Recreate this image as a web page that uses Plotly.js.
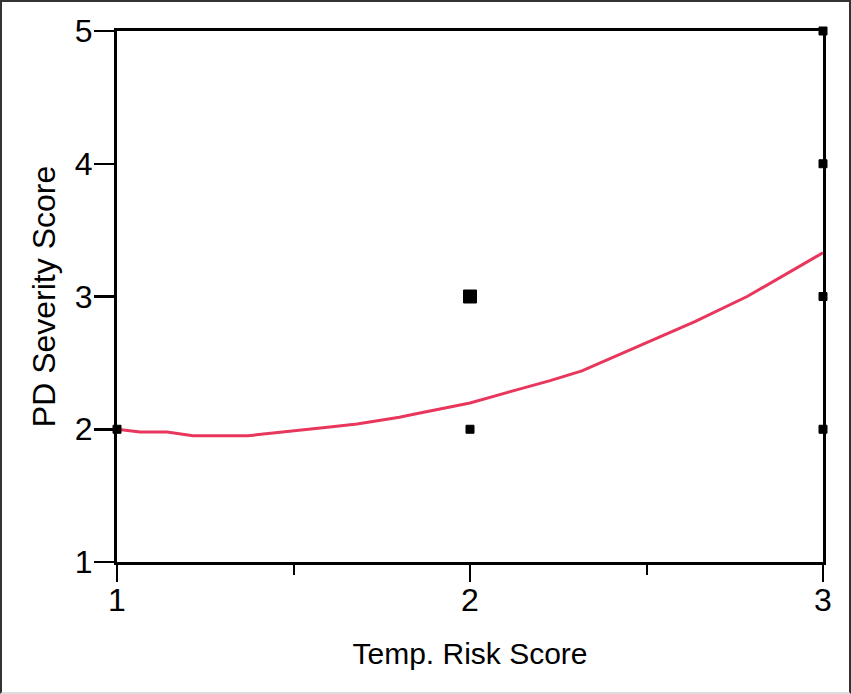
<!DOCTYPE html>
<html>
<head>
<meta charset="utf-8">
<script src="https://cdn.plot.ly/plotly-3.0.1.min.js"></script>
<style>
  html, body { margin: 0; padding: 0; background: #fff; }
  #frame { position: absolute; left: 0; top: 0; width: 851px; height: 694px; box-sizing: border-box; pointer-events: none;
           border-left: 2px solid #333; border-top: 2px solid #333; border-right: 2px solid #333; border-bottom: 2px solid #ddd; }
  #chart { position: absolute; left: 0; top: 0; width: 851px; height: 694px; }
</style>
</head>
<body>
<div id="chart"></div>
<div id="frame"></div>
<script>
// Observed data points
const tempRisk   = [1, 2, 2, 3, 3, 3, 3];
const pdSeverity = [2, 3, 2, 5, 4, 3, 2];
const obsCount   = [1, 2, 1, 1, 1, 1, 1];

// Smoothed fit curve
const smoothX = [1.0, 1.065, 1.142, 1.215, 1.371, 1.5, 1.603, 1.68, 1.80, 1.844, 2.0, 2.15, 2.227, 2.317, 2.48, 2.637, 2.785, 3.0];
const smoothY = [2.0, 1.979, 1.979, 1.951, 1.951, 1.985, 2.017, 2.04, 2.09, 2.115, 2.198, 2.31, 2.366, 2.44, 2.63, 2.81, 3.0, 3.33];

// Tick labels
const xTicks = [1, 2, 3];
const yTicks = [1, 2, 3, 4, 5];

const fam = '"Liberation Sans", Arial, sans-serif';

const traces = [
  {
    x: smoothX, y: smoothY, type: 'scatter', mode: 'lines',
    line: { color: '#e8365c', width: 3 },
    hoverinfo: 'skip', showlegend: false
  },
  {
    x: tempRisk, y: pdSeverity, type: 'scatter', mode: 'markers',
    marker: { symbol: 'square', color: '#000', opacity: 1,
              size: obsCount.map(c => c > 1 ? 13 : 8), line: { width: 1, color: '#000' } },
    opacity: 1, cliponaxis: false, showlegend: false
  }
];

const layout = {
  width: 851, height: 694,
  margin: { l: 117, r: 28, t: 31, b: 132 },
  paper_bgcolor: '#fff', plot_bgcolor: '#fff',
  font: { family: fam, color: '#000' },
  showlegend: false,
  xaxis: {
    range: [1, 3], tickvals: xTicks, ticktext: xTicks.map(String),
    showgrid: false, zeroline: false,
    showline: true, linecolor: '#000', linewidth: 3, mirror: true,
    ticks: 'outside', ticklen: 17, tickwidth: 2.5, tickcolor: '#000',
    minor: { ticks: 'outside', ticklen: 10, tickwidth: 2, tickcolor: '#000', tickvals: [1.5, 2.5] },
    ticklabelstandoff: -9,
    tickfont: { size: 32, family: fam, color: '#000' },
    title: { text: 'Temp. Risk Score', font: { size: 30, family: fam, color: '#000' }, standoff: 26 },
    layer: 'below traces', fixedrange: true
  },
  yaxis: {
    range: [1, 5], tickvals: yTicks, ticktext: yTicks.map(String),
    showgrid: false, zeroline: false,
    showline: true, linecolor: '#000', linewidth: 3, mirror: true,
    ticks: 'outside', ticklen: 20, tickwidth: 2.5, tickcolor: '#000',
    ticklabelstandoff: -5,
    tickfont: { size: 32, family: fam, color: '#000' },
    title: { text: 'PD Severity Score', font: { size: 32, family: fam, color: '#000' }, standoff: 10 },
    layer: 'below traces', fixedrange: true
  }
};

Plotly.newPlot('chart', traces, layout, { displayModeBar: false, staticPlot: true });
</script>
</body>
</html>
